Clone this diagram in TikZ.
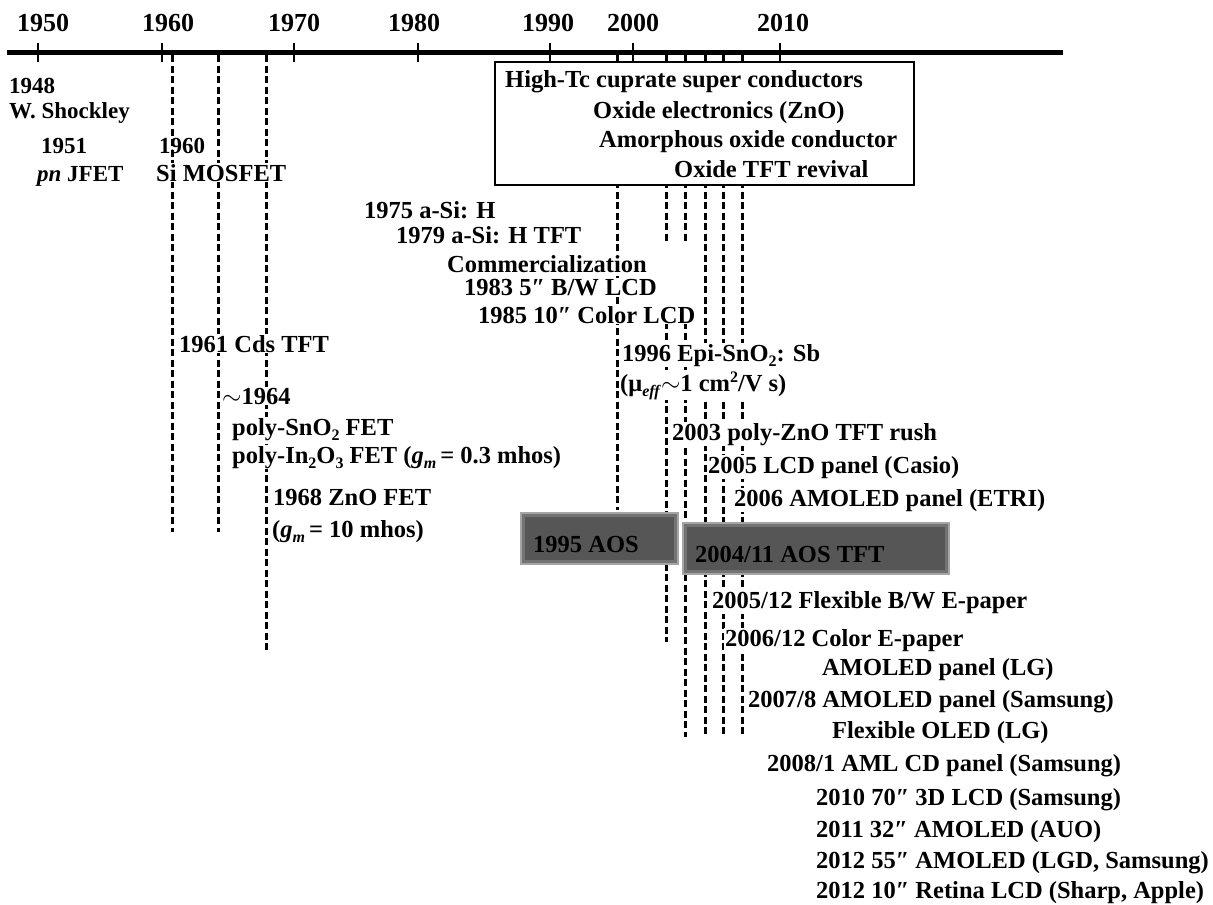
\documentclass[tikz,border=0pt]{standalone}
\usepackage{fontspec}
\setmainfont{Liberation Serif}
\definecolor{aosA}{RGB}{165,165,165}
\definecolor{aosB}{RGB}{115,115,115}
\definecolor{aosC}{RGB}{86,86,86}
\newcommand{\lowr}[1]{\raisebox{-5pt}{\fontsize{16}{16}\selectfont #1}}
\newcommand{\upr}[1]{\raisebox{9pt}{\fontsize{16}{16}\selectfont #1}}
\begin{document}
\begin{tikzpicture}[x=1pt,y=-1pt,
  txt/.style={font=\bfseries\fontsize{24.5}{26}\selectfont},
  small/.style={font=\bfseries\fontsize{23}{25}\selectfont},
  lbl/.style={txt, anchor=base west, inner sep=1pt, fill=white},
  plain/.style={txt, anchor=base west, inner sep=1pt},
  yr/.style={anchor=base, inner sep=0pt, font=\bfseries\fontsize{26}{28}\selectfont},
  guide/.style={line width=3pt, dash pattern=on 7pt off 3.5pt},
  axisline/.style={line width=5pt},
  tickmark/.style={line width=2.8pt},
  eventbox/.style={line width=2.5pt, fill=white}
]
\useasboundingbox (0,0) rectangle (1213,905);

% axis
\draw[axisline] (7,52) -- (1063,52);
\foreach \x/\lx/\y in {38/43/1950,162/168/1960,294/294/1970,418/414/1980,550/548/1990,633/633/2000,780/783/2010}{
  \draw[tickmark] (\x,43) -- (\x,62);
  \node[yr] (y\y) at (\lx,31) {\y};
}

% guide lines
\draw[guide] (172,55) -- (172,532);
\draw[guide] (218,55) -- (218,532);
\draw[guide] (266,55) -- (266,653);
\draw[guide] (617,55) -- (617,510);
\draw[guide] (666,55) -- (666,242);
\draw[guide] (666,322) -- (666,642);
\draw[guide] (685,55) -- (685,242);
\draw[guide] (685,322) -- (685,737);
\draw[guide] (705,55) -- (705,737);
\draw[guide] (723,55) -- (723,737);
\draw[guide] (742,55) -- (742,737);

% box of topics
\draw[eventbox] (495,62) rectangle (914,185);
\node[plain] (hightc) at (504,87) {High-Tc cuprate super conductors};
\node[plain] (oxel) at (592,118) {Oxide electronics (ZnO)};
\node[plain] (amorph) at (598,147) {Amorphous oxide conductor};
\node[plain] (revival) at (673,177) {Oxide TFT revival};

% left column
\node[plain, small] (n1948) at (8,93) {1948};
\node[plain, small] (shockley) at (8,118) {W. Shockley};
\node[plain, small] (n1951) at (40,153) {1951};
\node[plain, small] (jfet) at (36,181) {\textit{pn} JFET};
\node[plain, small] (n1960) at (158,153) {1960};
\node[lbl] (mosfet) at (155,181) {Si MOSFET};

% a-Si block
\node[lbl] (asih) at (363,218) {1975 a-Si: H};
\node[lbl] (asitft) at (395,243) {1979 a-Si: H TFT};
\node[lbl] (comm) at (446,272) {Commercialization};
\node[lbl] (lcd83) at (463,295) {1983 5″ B/W LCD};
\node[lbl] (lcd85) at (477,323) {1985 10″ Color LCD};

% oxide FETs
\node[lbl] (cds) at (178,352) {1961 Cds TFT};
\node[lbl] (n1964) at (221,404) {$\sim$1964};
\node[lbl] (sno) at (231,435) {poly-SnO\lowr{2} FET};
\node[lbl] (ino) at (231,463) {poly-In\lowr{2}O\lowr{3} FET (\textit{g}\lowr{\textit{m}}\,= 0.3 mhos)};
\node[lbl] (zno) at (272,505) {1968 ZnO FET};
\node[lbl] (gm10) at (271,537) {(\textit{g}\lowr{\textit{m}}\,= 10 mhos)};

% right cluster
\node[lbl] (epi) at (621,361) {1996 Epi-SnO\lowr{2}: Sb};
\node[lbl] (mu) at (619,391) {(μ\lowr{\textit{eff}}$\sim$1 cm\upr{2}/V s)};
\node[lbl] (zno03) at (671,440) {2003 poly-ZnO TFT rush};
\node[lbl] (casio) at (707,473) {2005 LCD panel (Casio)};
\node[lbl] (etri) at (733,506) {2006 AMOLED panel (ETRI)};

% gray boxes
\fill[aosA] (520,512) rectangle (679,565);
\fill[aosB] (522,514) rectangle (677,563);
\fill[aosC] (525,517) rectangle (674,560);
\node[plain] (aos95) at (532,552) {1995 AOS};
\fill[aosA] (682,522) rectangle (950,575);
\fill[aosB] (684,524) rectangle (948,573);
\fill[aosC] (687,527) rectangle (945,570);
\node[plain] (aos04) at (694,562) {2004/11 AOS TFT};

% lower list
\node[lbl] (epaper) at (711,608) {2005/12 Flexible B/W E-paper};
\node[lbl] (color) at (724,646) {2006/12 Color E-paper};
\node[lbl] (lg) at (821,675) {AMOLED panel (LG)};
\node[lbl] (sam07) at (747,707) {2007/8 AMOLED panel (Samsung)};
\node[lbl] (flex) at (831,738) {Flexible OLED (LG)};
\node[lbl] (sam08) at (766,771) {2008/1 AML CD panel (Samsung)};
\node[lbl] (l3d) at (815,805) {2010 70″ 3D LCD (Samsung)};
\node[lbl] (auo) at (815,837) {2011 32″ AMOLED (AUO)};
\node[lbl] (lgd) at (815,868) {2012 55″ AMOLED (LGD, Samsung)};
\node[lbl] (retina) at (815,898) {2012 10″ Retina LCD (Sharp, Apple)};
\end{tikzpicture}
\end{document}
